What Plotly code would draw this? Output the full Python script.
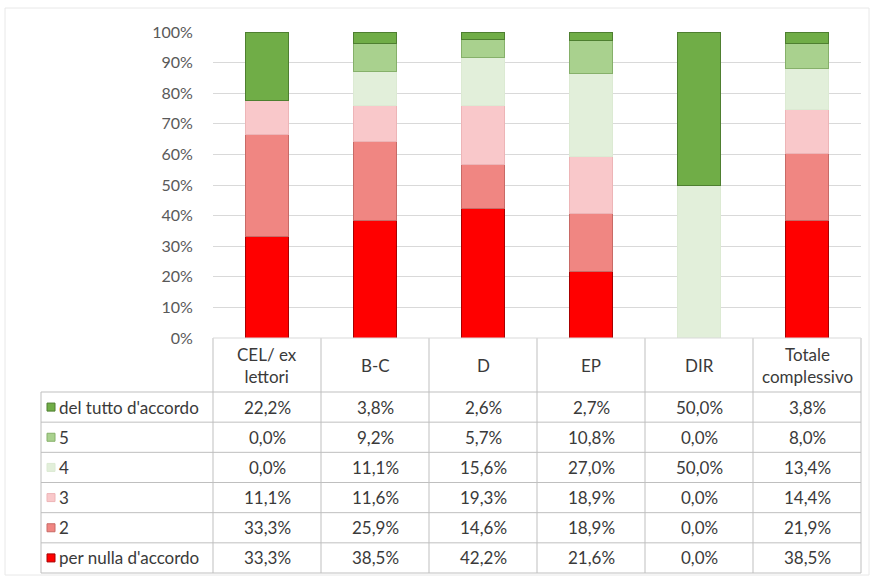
import plotly.graph_objects as go

W, H = 870, 576

categories = ["CEL/ ex lettori", "B-C", "D", "EP", "DIR", "Totale complessivo"]
header_labels = ["CEL/ ex<br>lettori", "B-C", "D", "EP", "DIR", "Totale<br>complessivo"]

series_names = ["per nulla d'accordo", "2", "3", "4", "5", "del tutto d'accordo"]
per_nulla = [33.3, 38.5, 42.2, 21.6, 0.0, 38.5]
s2 = [33.3, 25.9, 14.6, 18.9, 0.0, 21.9]
s3 = [11.1, 11.6, 19.3, 18.9, 0.0, 14.4]
s4 = [0.0, 11.1, 15.6, 27.0, 50.0, 13.4]
s5 = [0.0, 9.2, 5.7, 10.8, 0.0, 8.0]
del_tutto = [22.2, 3.8, 2.6, 2.7, 50.0, 3.8]
series_values = [per_nulla, s2, s3, s4, s5, del_tutto]

fills = ["#FF0000", "#F08682", "#F9C8CA", "#E2EFDA", "#A9D18E", "#70AD47"]
lines = ["#A80000", "#C86A66", "#EDB5B7", "#DCEAD3", "#86B06A", "#4E7F30"]

def px(x):
    return x / W

def py(y):
    return 1 - y / H

x_left, x_right = 213, 861
y_top, y_zero = 32, 338
table_bottom = 573
row_top = 392
label_left = 41
FS = 16
TFS = 17
TXT = "#3A3A3A"

fig = go.Figure()
for name, vals, fc, lc in zip(series_names, series_values, fills, lines):
    fig.add_trace(go.Bar(
        x=categories, y=vals, name=name,
        marker=dict(color=fc, line=dict(color=lc, width=1)),
        showlegend=False,
    ))

fig.update_layout(
    width=W, height=H, autosize=False,
    margin=dict(l=0, r=0, t=0, b=0, pad=0, autoexpand=False),
    barmode="stack", barnorm="percent", bargap=0.6,
    plot_bgcolor="white", paper_bgcolor="white",
    font=dict(family="Lato, Open Sans, sans-serif", size=FS, color=TXT),
    xaxis=dict(domain=[px(x_left), px(x_right)], type="category", automargin=False,
               range=[-0.5, 5.5], showticklabels=False, showgrid=False,
               zeroline=False, showline=False, fixedrange=True),
    yaxis=dict(domain=[py(y_zero), py(y_top)], range=[0, 100], automargin=False,
               tickvals=[0, 10, 20, 30, 40, 50, 60, 70, 80, 90, 100],
               ticktext=[f"{v}%" for v in range(0, 101, 10)],
               showgrid=True, gridcolor="#D9D9D9", gridwidth=1,
               zeroline=False, showline=False,
               ticks="outside", ticklen=16, tickcolor="rgba(0,0,0,0)",
               tickfont=dict(size=FS, color="#595959")),
)

shapes = []
grid = "#BFBFBF"
shapes.append(dict(type="rect", xref="paper", yref="paper",
                   x0=px(5), x1=px(869), y0=py(575), y1=py(8),
                   line=dict(color="#E8E8E8", width=1)))
n_rows = len(series_names)
row_h = (table_bottom - row_top) / n_rows
col_w = (x_right - x_left) / len(categories)
for i in range(n_rows + 1):
    y = row_top + i * row_h
    shapes.append(dict(type="line", xref="paper", yref="paper",
                       x0=px(label_left), x1=px(x_right), y0=py(y), y1=py(y),
                       line=dict(color=grid, width=1)))
for j in range(len(categories) + 1):
    x = x_left + j * col_w
    shapes.append(dict(type="line", xref="paper", yref="paper",
                       x0=px(x), x1=px(x), y0=py(y_zero), y1=py(table_bottom),
                       line=dict(color=grid, width=1)))
shapes.append(dict(type="line", xref="paper", yref="paper",
                   x0=px(label_left), x1=px(label_left), y0=py(row_top), y1=py(table_bottom),
                   line=dict(color=grid, width=1)))
shapes.append(dict(type="line", xref="paper", yref="paper",
                   x0=px(x_left), x1=px(x_right), y0=py(y_zero), y1=py(y_zero),
                   line=dict(color="#D9D9D9", width=1)))

annotations = []
for j, lab in enumerate(header_labels):
    cx = x_left + (j + 0.5) * col_w
    annotations.append(dict(xref="paper", yref="paper", x=px(cx), y=py((y_zero + row_top) / 2),
                            text=lab, showarrow=False, xanchor="center", yanchor="middle",
                            font=dict(size=TFS, color=TXT)))

table_order = list(range(n_rows))[::-1]
for r, si in enumerate(table_order):
    cy = row_top + (r + 0.5) * row_h
    shapes.append(dict(type="rect", xref="paper", yref="paper",
                       x0=px(47), x1=px(55), y0=py(cy + 4), y1=py(cy - 4),
                       fillcolor=fills[si], line=dict(color=lines[si], width=1)))
    annotations.append(dict(xref="paper", yref="paper", x=px(57), y=py(cy),
                            text=series_names[si], showarrow=False,
                            xanchor="left", yanchor="middle",
                            font=dict(size=TFS, color=TXT)))
    for j, v in enumerate(series_values[si]):
        cx = x_left + (j + 0.5) * col_w
        annotations.append(dict(xref="paper", yref="paper", x=px(cx), y=py(cy),
                                text=f"{v:.1f}%".replace(".", ","), showarrow=False,
                                xanchor="center", yanchor="middle",
                                font=dict(size=TFS, color=TXT)))

fig.update_layout(shapes=shapes, annotations=annotations)
fig.write_html("out.html", config={"displayModeBar": False})
